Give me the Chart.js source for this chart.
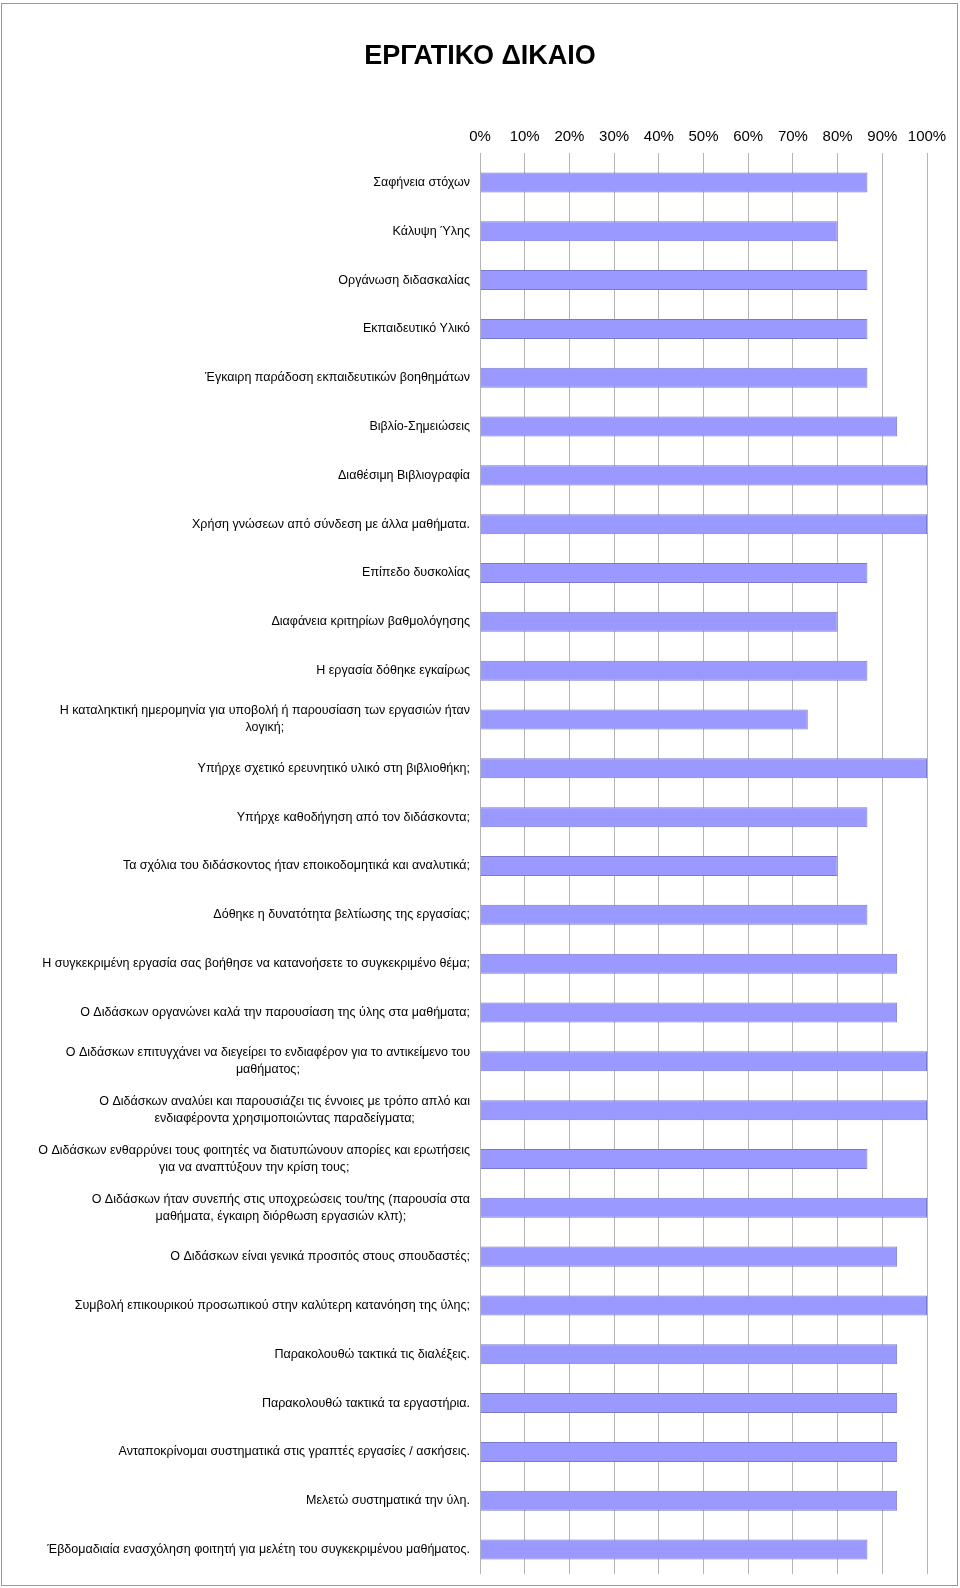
<!DOCTYPE html>
<html>
<head>
<meta charset="utf-8">
<script src="https://cdn.jsdelivr.net/npm/chart.js@4"></script>
<style>
  body { margin: 0; background: #fff; }
  #wrap { position: relative; width: 960px; height: 1588px; }
  #frame { position: absolute; left: 1px; top: 3px; width: 955px; height: 1581px; border: 1px solid #999; pointer-events: none; }
  canvas { position: absolute; left: 0; top: 0; }
</style>
</head>
<body>
<div id="wrap">
  <canvas id="chart" width="960" height="1588"></canvas>
  <div id="frame"></div>
</div>
<script>
// ερωτήσεις (γραμμές ετικέτας)
var labels = [
    "Σαφήνεια στόχων",
    "Κάλυψη Ύλης",
    "Οργάνωση διδασκαλίας",
    "Εκπαιδευτικό Υλικό",
    "Έγκαιρη παράδοση εκπαιδευτικών βοηθημάτων",
    "Βιβλίο-Σημειώσεις",
    "Διαθέσιμη Βιβλιογραφία",
    "Χρήση γνώσεων από σύνδεση με άλλα μαθήματα.",
    "Επίπεδο δυσκολίας",
    "Διαφάνεια κριτηρίων βαθμολόγησης",
    "Η εργασία δόθηκε εγκαίρως",
    ["Η καταληκτική ημερομηνία για υποβολή ή παρουσίαση των εργασιών ήταν", "λογική;"],
    "Υπήρχε σχετικό ερευνητικό υλικό στη βιβλιοθήκη;",
    "Υπήρχε καθοδήγηση από τον διδάσκοντα;",
    "Τα σχόλια του διδάσκοντος ήταν εποικοδομητικά και αναλυτικά;",
    "Δόθηκε η δυνατότητα βελτίωσης της εργασίας;",
    "Η συγκεκριμένη εργασία σας βοήθησε να κατανοήσετε το συγκεκριμένο θέμα;",
    "Ο Διδάσκων οργανώνει καλά την παρουσίαση της ύλης στα μαθήματα;",
    ["Ο Διδάσκων επιτυγχάνει να διεγείρει το ενδιαφέρον για το αντικείμενο του", "μαθήματος;"],
    ["Ο Διδάσκων αναλύει και παρουσιάζει τις έννοιες με τρόπο απλό και", "ενδιαφέροντα χρησιμοποιώντας παραδείγματα;"],
    ["Ο Διδάσκων ενθαρρύνει τους φοιτητές να διατυπώνουν απορίες και ερωτήσεις", "για να αναπτύξουν την κρίση τους;"],
    ["Ο Διδάσκων ήταν συνεπής στις υποχρεώσεις του/της (παρουσία στα", "μαθήματα, έγκαιρη διόρθωση εργασιών κλπ);"],
    "Ο Διδάσκων είναι γενικά προσιτός στους σπουδαστές;",
    "Συμβολή επικουρικού προσωπικού στην καλύτερη κατανόηση της ύλης;",
    "Παρακολουθώ τακτικά τις διαλέξεις.",
    "Παρακολουθώ τακτικά τα εργαστήρια.",
    "Ανταποκρίνομαι συστηματικά στις γραπτές εργασίες / ασκήσεις.",
    "Μελετώ συστηματικά την ύλη.",
    "Έβδομαδιαία ενασχόληση φοιτητή για μελέτη του συγκεκριμένου μαθήματος."
];

// ποσοστό (%)
var values = [
    86.67, 80, 86.67, 86.67, 86.67, 93.33, 100, 100, 86.67, 80,
    86.67, 73.33, 100, 86.67, 80, 86.67, 93.33, 93.33, 100, 100,
    86.67, 100, 93.33, 100, 93.33, 93.33, 93.33, 93.33, 86.67
];

var title = "ΕΡΓΑΤΙΚΟ ΔΙΚΑΙΟ";
var fam = '"Liberation Sans", Arial, sans-serif';

// τίτλος στο κέντρο της σελίδας + ετικέτες άξονα y (κεντραρισμένο μπλοκ, δεξιά στοίχιση)
var textPlugin = {
    id: 'texts',
    afterDraw: function(chart) {
        var ctx = chart.ctx;
        var ys = chart.scales.y;
        var right = chart.chartArea.left - 10;
        var lh = 17;
        ctx.save();
        ctx.fillStyle = '#000';
        ctx.textAlign = 'center';
        ctx.textBaseline = 'middle';
        ctx.font = 'bold 27px ' + fam;
        ctx.fillText(title, 480, 57);
        ctx.font = '12.5px ' + fam;
        for (var i = 0; i < labels.length; i++) {
            var lines = Array.isArray(labels[i]) ? labels[i] : [labels[i]];
            var w = 0;
            lines.forEach(function(l) { w = Math.max(w, ctx.measureText(l).width); });
            var cx = right - w / 2;
            var cy = ys.getPixelForValue(i);
            var y0 = cy - (lines.length - 1) * lh / 2;
            for (var j = 0; j < lines.length; j++) {
                ctx.fillText(lines[j], cx, y0 + j * lh);
            }
        }
        ctx.restore();
    }
};

var myChart = new Chart('chart', {
    type: 'bar',
    data: {
        labels: labels,
        datasets: [{
            data: values,
            backgroundColor: '#9999ff',
            borderColor: '#7a7acc',
            borderWidth: 1,
            categoryPercentage: 1,
            barPercentage: 0.41
        }]
    },
    plugins: [textPlugin],
    options: {
        indexAxis: 'y',
        responsive: false,
        animation: false,
        layout: {
            padding: { left: 480, right: 33, top: 121, bottom: 14 }
        },
        plugins: {
            legend: { display: false },
            tooltip: { enabled: false },
            title: { display: false }
        },
        scales: {
            x: {
                position: 'top',
                min: 0,
                max: 100,
                border: { display: false },
                grid: { color: '#b4b4b4', lineWidth: 1, tickLength: 5 },
                ticks: {
                    stepSize: 10,
                    padding: 7,
                    color: '#000',
                    font: { family: fam, size: 15 },
                    callback: function(v) { return v + '%'; }
                }
            },
            y: {
                display: false
            }
        }
    }
});
</script>
</body>
</html>
